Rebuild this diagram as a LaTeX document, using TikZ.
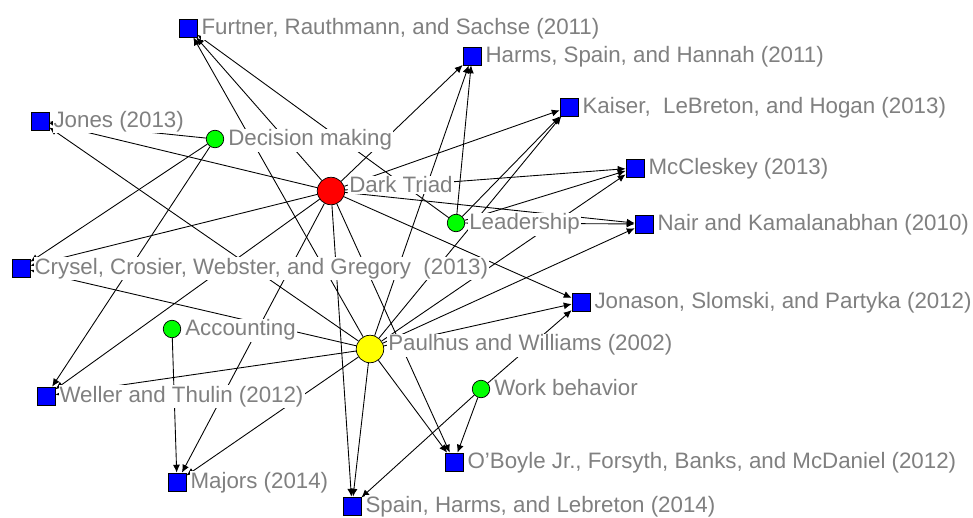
\documentclass[tikz,border=0pt]{standalone}
\usepackage{fontspec}
\setmainfont{Liberation Sans}
\usepackage{xcolor}
\usetikzlibrary{arrows.meta}

\definecolor{paperBlue}{RGB}{0,0,255}
\definecolor{topicGreen}{RGB}{0,255,0}
\definecolor{triadRed}{RGB}{255,0,0}
\definecolor{paulhusYellow}{RGB}{255,255,0}
\definecolor{tagGray}{RGB}{128,128,128}

\begin{document}
\begin{tikzpicture}[x=0.02cm,y=-0.02cm,
        paper/.style={rectangle,draw=black,fill=paperBlue,minimum size=0.36cm,inner sep=0pt},
        topic/.style={circle,draw=black,fill=topicGreen,minimum size=0.35cm,inner sep=0pt},
        hub/.style={circle,draw=black,minimum size=0.55cm,inner sep=0pt},
        link/.style={-{Latex[length=4.5pt,width=4pt]},line width=0.5pt},
        tag/.style={anchor=base west,fill=white,inner sep=0.6pt,text=tagGray,
            font=\fontsize{12.7}{15}\selectfont,xshift=1.6pt,yshift=-9.1pt}]

                \useasboundingbox (0,0) rectangle (973,517);

                \node[hub,fill=triadRed] (darkTriad) at (331,191) {};
                \node[hub,fill=paulhusYellow] (paulhus) at (370,349) {};
                \node[topic] (decision) at (215,139) {};
                \node[topic] (leadership) at (456,223) {};
                \node[topic] (accounting) at (172,329) {};
                \node[topic] (workBehavior) at (481,389) {};

                \node[paper] (furtner) at (188,28) {};
                \node[paper] (harms) at (472,56) {};
                \node[paper] (kaiser) at (569,107) {};
                \node[paper] (mccleskey) at (635,168) {};
                \node[paper] (nair) at (644,224) {};
                \node[paper] (jonason) at (581,302) {};
                \node[paper] (oboyle) at (454,462) {};
                \node[paper] (spain) at (352,506) {};
                \node[paper] (majors) at (177,482) {};
                \node[paper] (weller) at (46,396) {};
                \node[paper] (crysel) at (21,268) {};
                \node[paper] (jones) at (40,121) {};

                \draw[link] (darkTriad) -- (furtner);
                \draw[link] (darkTriad) -- (harms);
                \draw[link] (darkTriad) -- (kaiser);
                \draw[link] (darkTriad) -- (mccleskey);
                \draw[link] (darkTriad) -- (nair);
                \draw[link] (darkTriad) -- (jonason);
                \draw[link] (darkTriad) -- (oboyle);
                \draw[link] (darkTriad) -- (spain);
                \draw[link] (darkTriad) -- (majors);
                \draw[link] (darkTriad) -- (weller);
                \draw[link] (darkTriad) -- (crysel);
                \draw[link] (darkTriad) -- (jones);

                \draw[link] (paulhus) -- (furtner);
                \draw[link] (paulhus) -- (harms);
                \draw[link] (paulhus) -- (kaiser);
                \draw[link] (paulhus) -- (mccleskey);
                \draw[link] (paulhus) -- (nair);
                \draw[link] (paulhus) -- (jonason);
                \draw[link] (paulhus) -- (oboyle);
                \draw[link] (paulhus) -- (spain);
                \draw[link] (paulhus) -- (majors);
                \draw[link] (paulhus) -- (weller);
                \draw[link] (paulhus) -- (crysel);
                \draw[link] (paulhus) -- (jones);

                \draw[link] (decision) -- (jones);
                \draw[link] (decision) -- (crysel);
                \draw[link] (decision) -- (weller);

                \draw[link] (leadership) -- (furtner);
                \draw[link] (leadership) -- (harms);
                \draw[link] (leadership) -- (kaiser);
                \draw[link] (leadership) -- (mccleskey);
                \draw[link] (leadership) -- (nair);

                \draw[link] (accounting) -- (majors);

                \draw[link] (workBehavior) -- (jonason);
                \draw[link] (workBehavior) -- (oboyle);
                \draw[link] (workBehavior) -- (spain);

                % labels last, so they sit over the lines
                \node[tag] (darkTriadText) at (darkTriad.east |- darkTriad.north) {Dark Triad};
                \node[tag] (paulhusText) at (paulhus.east |- paulhus.north) {Paulhus and Williams (2002)};
                \node[tag] (decisionText) at (decision.east |- decision.north) {Decision making};
                \node[tag] (leadershipText) at (leadership.east |- leadership.north) {Leadership};
                \node[tag] (accountingText) at (accounting.east |- accounting.north) {Accounting};
                \node[tag] (workBehaviorText) at (workBehavior.east |- workBehavior.north) {Work behavior};

                \node[tag] (furtnerText) at (furtner.north east) {Furtner, Rauthmann, and Sachse (2011)};
                \node[tag] (harmsText) at (harms.north east) {Harms, Spain, and Hannah (2011)};
                \node[tag] (kaiserText) at (kaiser.north east) {Kaiser,~ LeBreton, and Hogan (2013)};
                \node[tag] (mccleskeyText) at (mccleskey.north east) {McCleskey (2013)};
                \node[tag] (nairText) at (nair.north east) {Nair and Kamalanabhan (2010)};
                \node[tag] (jonasonText) at (jonason.north east) {Jonason, Slomski, and Partyka (2012)};
                \node[tag] (oboyleText) at (oboyle.north east) {O’Boyle Jr., Forsyth, Banks, and McDaniel (2012)};
                \node[tag] (spainText) at (spain.north east) {Spain, Harms, and Lebreton (2014)};
                \node[tag] (majorsText) at (majors.north east) {Majors (2014)};
                \node[tag] (wellerText) at (weller.north east) {Weller and Thulin (2012)};
                \node[tag] (cryselText) at (crysel.north east) {Crysel, Crosier, Webster, and Gregory~ (2013)};
                \node[tag] (jonesText) at (jones.north east) {Jones (2013)};
\end{tikzpicture}
\end{document}
